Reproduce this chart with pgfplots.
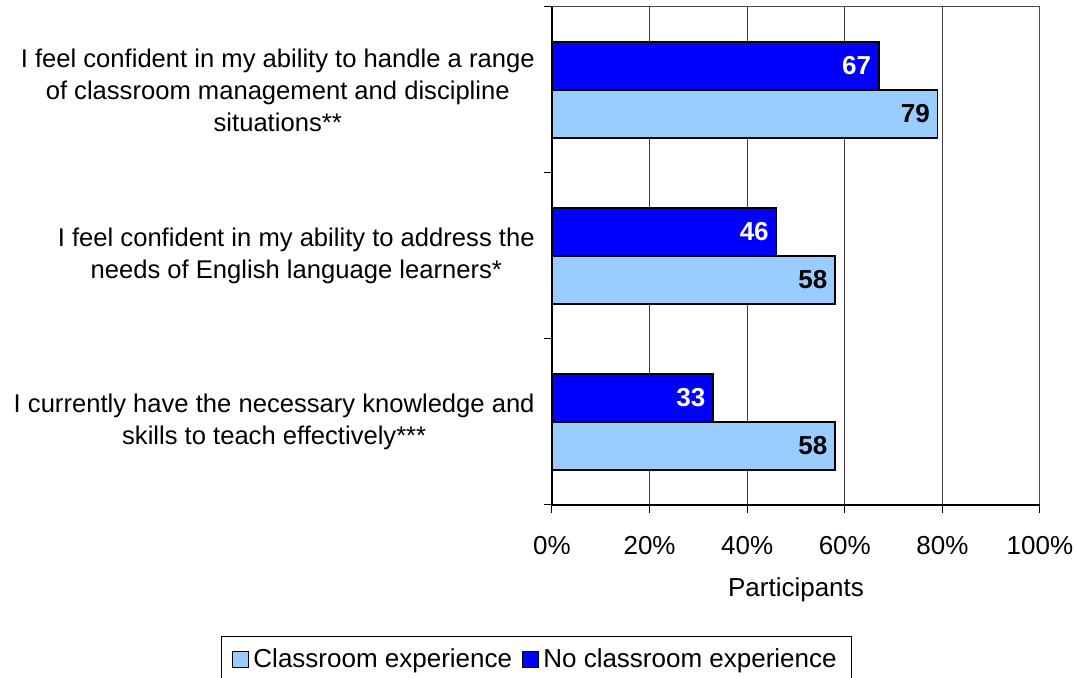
\documentclass[border=0pt]{standalone}
\usepackage{pgfplots}
\pgfplotsset{compat=1.18}
\usepackage{fontspec}
\setmainfont{Liberation Sans}
\definecolor{lightbar}{HTML}{99CCFF}
\definecolor{darkbar}{HTML}{0000FF}

\begin{document}
\fontsize{13}{16}\selectfont
\begin{tikzpicture}
\useasboundingbox (-276pt,-86.5pt) rectangle (262pt,252.5pt);
\begin{axis}[
    at={(0pt,0pt)}, anchor=south west,
    scale only axis,
    width=244pt, height=249pt,
    xbar,
    bar width=24pt,
    xmin=0, xmax=100,
    ymin=-0.5, ymax=2.5,
    xtick={0,20,40,60,80,100},
    xticklabels={0\%,20\%,40\%,60\%,80\%,100\%},
    x tick style={black, line width=0.5pt},
    xtick align=outside,
    xtick pos=bottom,
    major tick length=4pt,
    xmajorgrids,
    major grid style={black!75, line width=0.5pt},
    ytick={0,1,2},
    yticklabels={
      {I currently have the necessary knowledge and\\skills to teach effectively***},
      {I feel confident in my ability to address the\\needs of English language learners*},
      {I feel confident in my ability to handle a range\\of classroom management and discipline\\situations**}},
    ytick style={draw=none},
    yticklabel style={align=center, inner sep=0pt, xshift=-4.5pt, font=\fontsize{12.8}{16}\selectfont},
    xticklabel style={yshift=-7pt, font=\fontsize{13}{16}\selectfont},
    extra y ticks={-0.5,0.5,1.5,2.5},
    extra y tick labels={},
    extra y tick style={ytick style={draw=black, line width=0.5pt}, ytick align=outside, ytick pos=left, major tick length=4pt},
    axis line style={black!70, line width=0.5pt},
    xlabel={Participants},
    xlabel style={yshift=-2.5pt},
    label style={font=\fontsize{13}{16}\selectfont},
    /pgf/number format/assume math mode=true,
    nodes near coords,
    point meta=x,
    nodes near coords style={anchor=east, inner sep=0pt, xshift=-3.5pt, font=\fontsize{13}{16}\selectfont\bfseries},
    legend columns=-1,
    legend style={at={(-0.0318,-0.263)}, anchor=north, draw=black, line width=0.5pt,
      font=\fontsize{13}{16}\selectfont, inner xsep=5.5pt, inner ysep=4pt,
      /tikz/every even column/.append style={column sep=3pt}},
    legend image code/.code={\draw[#1, line width=0.6pt] (0pt,-4pt) rectangle (8pt,4pt);},
    clip=false,
]
\addplot[fill=lightbar, draw=black, line width=0.8pt, bar shift=-12pt,
  nodes near coords style={text=black}]
  coordinates {(58,0) (58,1) (79,2)};
\addlegendentry{Classroom experience}
\addplot[fill=darkbar, draw=black, line width=0.8pt, bar shift=12pt,
  nodes near coords style={text=white}]
  coordinates {(33,0) (46,1) (67,2)};
\addlegendentry{No classroom experience}
\end{axis}
\draw[black, line width=1pt] (0pt,249pt) -- (0pt,0pt) -- (244pt,0pt);
\end{tikzpicture}
\end{document}
